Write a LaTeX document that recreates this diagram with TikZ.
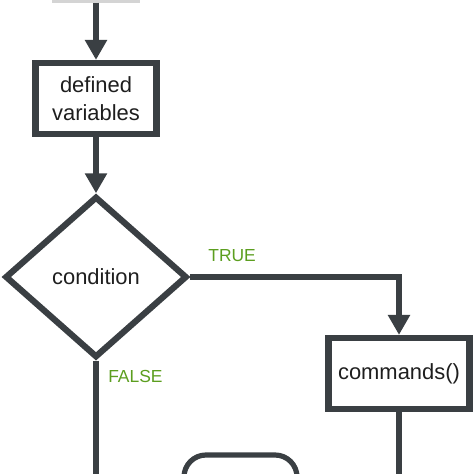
\documentclass[tikz,border=0pt]{standalone}
\usepackage{fontspec}
\setmainfont{Liberation Sans}
\usepackage{xcolor}
\usetikzlibrary{arrows.meta,positioning,shapes.geometric}
\definecolor{Ink}{HTML}{3A3F43}
\definecolor{Leaf}{HTML}{5C9E1F}
\definecolor{Txt}{HTML}{1E1E1E}
\definecolor{Fade}{HTML}{D4D4D4}

\begin{document}
\begin{tikzpicture}[x=0.025cm,y=0.025cm,
  box/.style={rectangle,draw=Ink,line width=0.155cm,inner sep=0pt,minimum height=1.775cm,
    align=center,text=Txt,font=\fontsize{15.6}{20}\selectfont},
  decision/.style={diamond,draw=Ink,line width=0.155cm,inner sep=0pt,minimum width=4.55cm,
    minimum height=4.03cm,text=Txt,font=\fontsize{15.6}{20}\selectfont},
  lbl/.style={inner sep=0pt,text=Leaf,font=\fontsize{12.4}{14}\selectfont},
  flow/.style={draw=Ink,line width=0.155cm,-{Triangle[length=0.5cm,width=0.53cm]}},
  wire/.style={draw=Ink,line width=0.155cm}]
  \useasboundingbox (0,0) rectangle (474,-474);
  \clip (0,0) rectangle (474,-474);
  % nodes
  \node[rectangle,draw=Fade,line width=0.08cm,minimum width=2.125cm,minimum height=1.5cm] (start) at (96,29) {};
  \node[box,minimum width=3.025cm] (vars) at (96,-98.5) {defined\\variables};
  \node[decision] (cond) at (96,-277) {condition};
  \node[box,minimum width=3.525cm] (cmd) at (399,-373.5) {commands()};
  \node[rectangle,rounded corners=0.55cm,draw=Ink,line width=0.13cm,minimum width=2.825cm,minimum height=1.5cm] (stop) at (240.5,-485) {};
  \coordinate (falseend) at (96,-490);
  \coordinate (cmdend) at (399,-490);
  % labels
  \node[lbl,above right=0.375cm and 0.45cm of cond.east] (true) {TRUE};
  \node[lbl,below right=0.225cm and 0.3cm of cond.south] (false) {FALSE};
  % connectors
  \draw[flow] (start) -- (vars);
  \draw[flow] (vars) -- (cond);
  \draw[flow] (cond.east) -| (cmd.north);
  \draw[wire] (cond.south) -- (falseend);
  \draw[wire] (cmd.south) -- (cmdend);
\end{tikzpicture}
\end{document}
